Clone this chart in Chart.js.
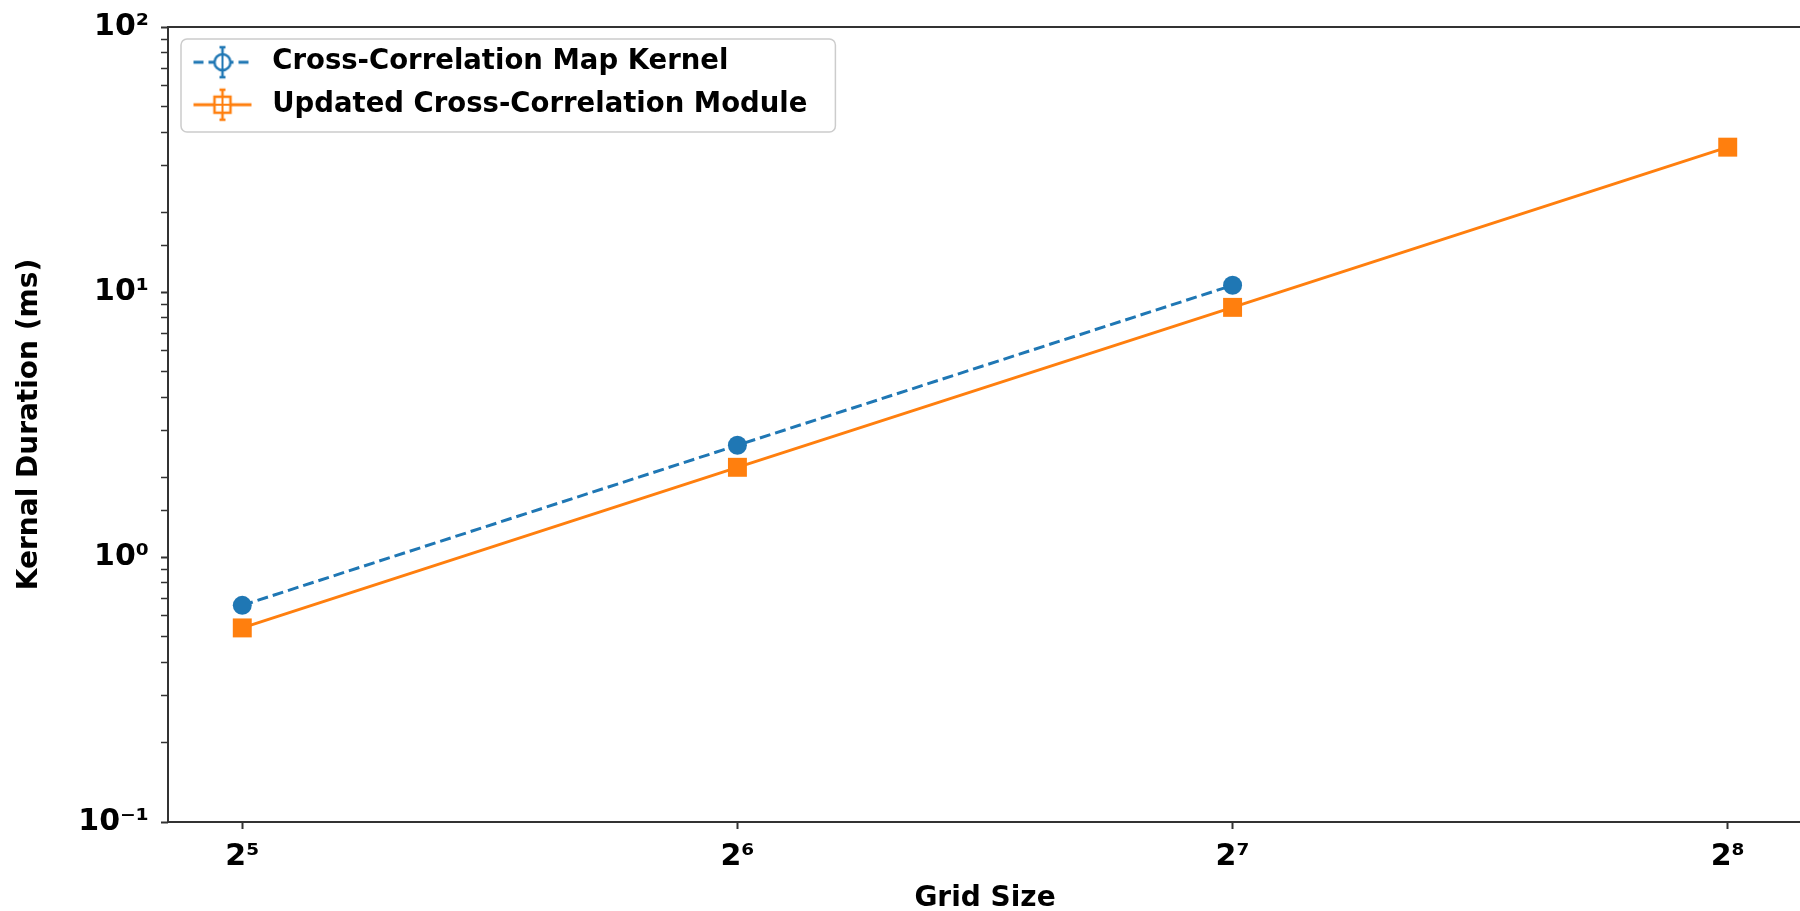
<!DOCTYPE html>
<html>
<head>
<meta charset="utf-8">
<script src="https://cdn.jsdelivr.net/npm/chart.js@4/dist/chart.umd.min.js"></script>
<style>
html,body{margin:0;padding:0;background:#fff;overflow:hidden;}
#c{position:absolute;left:0;top:0;width:1803px;height:911px;}
</style>
</head>
<body>
<canvas id="c" width="1803" height="911"></canvas>
<script>
// ---- data ----
const gridSizes = [32, 64, 128, 256];
const mapKernelMs = [0.657, 2.64, 10.6];
const updatedModuleMs = [0.540, 2.18, 8.75, 35.2];
const seriesNames = ['Cross-Correlation Map Kernel', 'Updated Cross-Correlation Module'];
const yMajorTicks = [0.1, 1, 10, 100];
const xTitle = 'Grid Size';
const yTitle = 'Kernal Duration (ms)';

// ---- styles ----
const BLUE = '#1f77b4';
const ORANGE = '#ff7f0e';
const FONT = 'DejaVu Sans';
const SUP = {'0':'\u2070','1':'\u00b9','2':'\u00b2','3':'\u00b3','4':'\u2074','5':'\u2075','6':'\u2076','7':'\u2077','8':'\u2078','9':'\u2079','-':'\u207b'};
const sup = n => String(n).split('').map(ch => SUP[ch]).join('');

function makeHandle(color, dashed, shape) {
  const c = document.createElement('canvas');
  c.width = 62; c.height = 36;
  const g = c.getContext('2d');
  g.strokeStyle = color; g.lineWidth = 3;
  g.setLineDash(dashed ? [10, 5] : []);
  g.beginPath(); g.moveTo(2, 18); g.lineTo(60, 18); g.stroke();
  g.setLineDash([]);
  g.lineWidth = 2.5;
  g.beginPath(); g.moveTo(31, 3); g.lineTo(31, 33);
  g.moveTo(28, 3); g.lineTo(34, 3); g.moveTo(28, 33); g.lineTo(34, 33); g.stroke();
  g.fillStyle = '#fff';
  g.beginPath();
  if (shape === 'circle') g.arc(31, 18, 8, 0, Math.PI * 2);
  else g.rect(23, 10, 16, 16);
  g.fill(); g.stroke();
  g.lineWidth = 2;
  g.beginPath(); g.moveTo(31, 10); g.lineTo(31, 26);
  if (shape !== 'circle') { g.moveTo(23, 18); g.lineTo(39, 18); }
  g.stroke();
  return c;
}
const handles = [makeHandle(BLUE, true, 'circle'), makeHandle(ORANGE, false, 'rect')];

const LEG = {left: 171.5, top: 33.5, pad: 15, boxW: 72, font: 27.5};

const framePlugin = {
  id: 'frame',
  beforeDraw(chart) {
    const lg = chart.legend;
    if (lg) {
      lg.left = LEG.left; lg.top = LEG.top;
      lg.right = 900; lg.bottom = 145;
      lg.width = lg.right - lg.left; lg.height = lg.bottom - lg.top;
      const ctx = chart.ctx;
      ctx.save();
      ctx.font = 'bold ' + LEG.font + 'px "' + FONT + '"';
      let maxW = 0;
      seriesNames.forEach(s => { maxW = Math.max(maxW, ctx.measureText(s).width); });
      const textX = LEG.left + LEG.pad + LEG.boxW + LEG.font / 2;
      const x0 = 181, y0 = 39, x1 = textX + maxW + 28, y1 = 132;
      ctx.beginPath();
      ctx.roundRect(x0, y0, x1 - x0, y1 - y0, 6);
      ctx.fillStyle = 'rgba(255,255,255,0.85)';
      ctx.fill();
      ctx.lineWidth = 1.5;
      ctx.strokeStyle = '#cccccc';
      ctx.stroke();
      ctx.restore();
    }
  },
  afterDatasetsDraw(chart) {
    const {ctx, chartArea: a} = chart;
    ctx.save();
    ctx.strokeStyle = '#333';
    ctx.lineWidth = 2;
    ctx.strokeRect(a.left, a.top, a.right - a.left, a.bottom - a.top);
    ctx.restore();
  }
};

Chart.defaults.font.family = FONT;
Chart.defaults.font.weight = 'bold';
Chart.defaults.color = '#000';

const xMargin = 0.05 * Math.log2(gridSizes[gridSizes.length - 1] / gridSizes[0]);
const zeroPad = s => { s.paddingLeft = 0; s.paddingRight = 0; s.paddingTop = 0; s.paddingBottom = 0; };

new Chart(document.getElementById('c'), {
  type: 'line',
  data: {
    datasets: [
      {
        label: seriesNames[0],
        data: mapKernelMs.map((v, i) => ({x: gridSizes[i], y: v})),
        borderColor: BLUE, backgroundColor: BLUE,
        borderWidth: 3, borderDash: [11, 5],
        pointStyle: 'circle', pointRadius: 9.5, pointBorderWidth: 0,
        pointBackgroundColor: BLUE
      },
      {
        label: seriesNames[1],
        data: updatedModuleMs.map((v, i) => ({x: gridSizes[i], y: v})),
        borderColor: ORANGE, backgroundColor: ORANGE,
        borderWidth: 3,
        pointStyle: 'rect', pointRadius: 13.4, pointBorderWidth: 0,
        pointBackgroundColor: ORANGE
      }
    ]
  },
  options: {
    responsive: false,
    maintainAspectRatio: false,
    animation: false,
    devicePixelRatio: 1,
    layout: {autoPadding: false, padding: {top: 27, right: 1, bottom: 0, left: 0}},
    plugins: {
      tooltip: {enabled: false},
      legend: {
        position: 'chartArea',
        align: 'start',
        labels: {
          usePointStyle: true,
          pointStyleWidth: LEG.boxW,
          padding: LEG.pad,
          font: {family: FONT, size: LEG.font, weight: 'bold'},
          color: '#000',
          generateLabels(chart) {
            const items = Chart.defaults.plugins.legend.labels.generateLabels(chart);
            items.forEach((it, i) => { it.pointStyle = handles[i]; it.lineWidth = 0; });
            return items;
          }
        }
      }
    },
    scales: {
      x: {
        type: 'logarithmic',
        min: gridSizes[0] * Math.pow(2, -xMargin),
        max: gridSizes[gridSizes.length - 1] * Math.pow(2, xMargin),
        afterBuildTicks(s) { s.ticks = gridSizes.map(v => ({value: v, major: true})); },
        afterFit(s) { s.height = 89; zeroPad(s); },
        border: {display: false},
        grid: {display: true, drawOnChartArea: false, drawTicks: true, tickLength: 7, tickColor: '#333', tickWidth: 2},
        ticks: {
          autoSkip: false, maxRotation: 0, padding: 10,
          font: {family: FONT, size: 30, weight: 'bold'},
          color: '#000',
          callback(value) { return '2' + sup(Math.round(Math.log2(value))); }
        },
        title: {
          display: true, text: xTitle,
          font: {family: FONT, size: 28, weight: 'bold', lineHeight: 1},
          padding: {top: 0, bottom: -2}, color: '#000'
        }
      },
      y: {
        type: 'logarithmic',
        min: yMajorTicks[0],
        max: yMajorTicks[yMajorTicks.length - 1],
        afterFit(s) { s.width = 168; zeroPad(s); },
        border: {display: false},
        grid: {
          display: true, drawOnChartArea: false, drawTicks: true, tickLength: 7, tickColor: '#333',
          tickWidth(ctx) {
            const v = ctx.tick ? ctx.tick.value : 0;
            return yMajorTicks.some(t => Math.abs(t - v) < 1e-9 * t) ? 2 : 1.5;
          }
        },
        ticks: {
          autoSkip: false, padding: 12,
          font: {family: FONT, size: 30, weight: 'bold'},
          color: '#000',
          callback(value) {
            const isMajor = yMajorTicks.some(t => Math.abs(t - value) < 1e-9 * t);
            return isMajor ? '10' + sup(Math.round(Math.log10(value))) : '';
          }
        },
        title: {
          display: true, text: yTitle,
          font: {family: FONT, size: 28, weight: 'bold', lineHeight: 1},
          padding: {top: 16, bottom: 0}, color: '#000'
        }
      }
    }
  },
  plugins: [framePlugin]
});
</script>
</body>
</html>
